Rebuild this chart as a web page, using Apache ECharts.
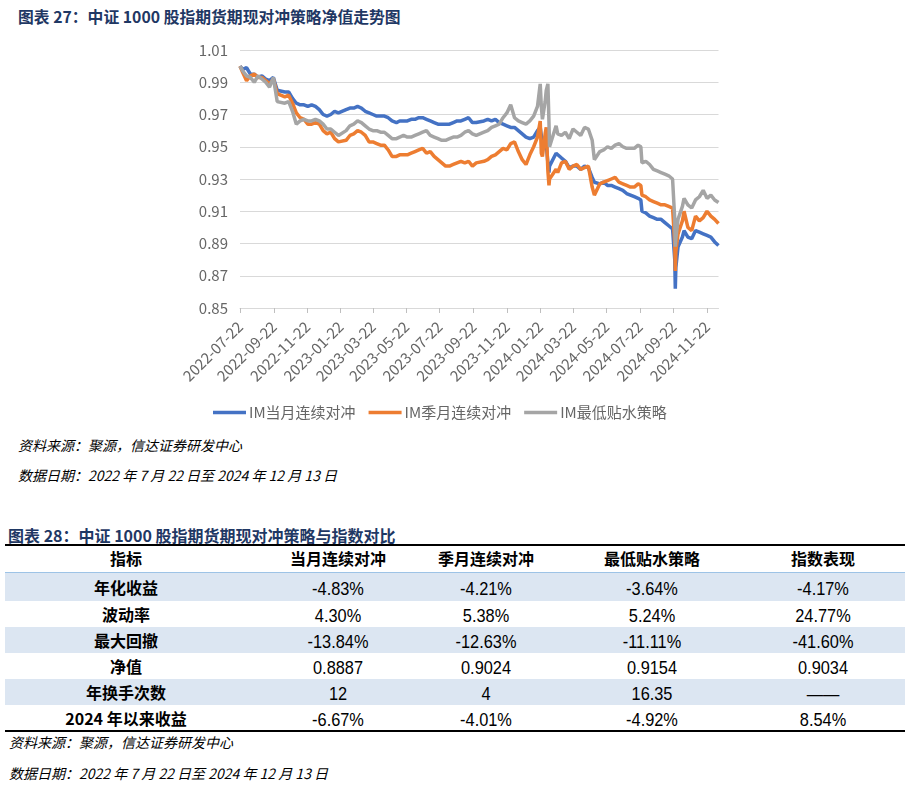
<!DOCTYPE html>
<html><head><meta charset="utf-8">
<script src="https://cdn.jsdelivr.net/npm/echarts@6/dist/echarts.min.js"></script>
<style>
html,body{margin:0;padding:0;background:#fff;width:919px;height:789px;overflow:hidden;font-family:"Noto Sans CJK SC",sans-serif;}
#chart{position:absolute;left:0;top:0;width:919px;height:430px;}
.t{position:absolute;white-space:nowrap;line-height:1;}
.title{font-weight:bold;color:#1f3864;}
.src{font-style:italic;font-size:14px;color:#000;}
.rowbg{position:absolute;left:5px;width:900px;background:#dce6f2;}
.cell{position:absolute;transform:translate(-50%,-50%);white-space:nowrap;line-height:1;}
.hd{font-weight:bold;font-size:16px;color:#000;}
.num{font-family:"Liberation Sans",sans-serif;font-size:19px;color:#000;transform:translate(-50%,-50%) scaleX(0.86);}
.hline{position:absolute;left:5px;width:900px;}
</style></head>
<body>
<div class="t title" style="left:18px;top:9px;font-size:15.8px;">图表 27：中证 1000 股指期货期现对冲策略净值走势图</div>
<div id="chart"></div>
<div class="t src" style="left:18px;top:438px;">资料来源：聚源，信达证券研发中心</div>
<div class="t src" style="left:18px;top:468px;">数据日期：2022 年 7 月 22 日至 2024 年 12 月 13 日</div>
<div class="t title" style="left:8px;top:527px;font-size:16px;">图表 28：中证 1000 股指期货期现对冲策略与指数对比</div>
<div id="table"></div>
<div class="t src" style="left:9px;top:735px;">资料来源：聚源，信达证券研发中心</div>
<div class="t src" style="left:9px;top:766px;">数据日期：2022 年 7 月 22 日至 2024 年 12 月 13 日</div>
<script>
const dates = [
'2022-07-22','2022-07-27','2022-08-03','2022-08-10','2022-08-17','2022-08-24','2022-08-31','2022-09-07','2022-09-14','2022-09-21',
'2022-09-28','2022-10-12','2022-10-19','2022-10-26','2022-11-02','2022-11-09','2022-11-16','2022-11-23','2022-11-30','2022-12-07',
'2022-12-14','2022-12-21','2022-12-28','2023-01-04','2023-01-11','2023-01-18','2023-02-01','2023-02-08','2023-02-15','2023-02-22',
'2023-03-01','2023-03-08','2023-03-15','2023-03-22','2023-03-29','2023-04-05','2023-04-12','2023-04-19','2023-04-26','2023-05-04',
'2023-05-10','2023-05-17','2023-05-24','2023-05-31','2023-06-07','2023-06-14','2023-06-21','2023-06-28','2023-07-05','2023-07-12',
'2023-07-19','2023-07-26','2023-08-02','2023-08-09','2023-08-16','2023-08-23','2023-08-30','2023-09-06','2023-09-13','2023-09-20',
'2023-09-27','2023-10-11','2023-10-18','2023-10-25','2023-11-01','2023-11-08','2023-11-15','2023-11-22','2023-11-29','2023-12-06',
'2023-12-13','2023-12-20','2023-12-27','2024-01-03','2024-01-10','2024-01-17','2024-01-22','2024-01-24','2024-01-26','2024-01-31',
'2024-02-02','2024-02-05','2024-02-07','2024-02-08','2024-02-20','2024-02-23','2024-03-01','2024-03-08','2024-03-15','2024-03-22',
'2024-03-29','2024-04-05','2024-04-12','2024-04-19','2024-04-26','2024-04-30','2024-05-10','2024-05-17','2024-05-24','2024-05-31',
'2024-06-07','2024-06-14','2024-06-21','2024-06-28','2024-07-05','2024-07-12','2024-07-19','2024-07-24','2024-07-26','2024-08-02',
'2024-08-09','2024-08-16','2024-08-23','2024-08-30','2024-09-06','2024-09-13','2024-09-20','2024-09-24','2024-09-25','2024-09-26',
'2024-09-30','2024-10-08','2024-10-11','2024-10-18','2024-10-25','2024-11-01','2024-11-08','2024-11-15','2024-11-22','2024-11-29',
'2024-12-06','2024-12-13'];

const imMonthly = [
1.000,0.998,0.999,0.995,0.995,0.993,0.994,0.992,0.991,0.993,
0.985,0.984,0.984,0.980,0.977,0.976,0.976,0.975,0.976,0.975,
0.973,0.970,0.969,0.970,0.972,0.971,0.973,0.974,0.974,0.975,
0.974,0.972,0.971,0.970,0.969,0.969,0.969,0.968,0.966,0.965,
0.966,0.966,0.966,0.967,0.967,0.968,0.968,0.967,0.966,0.965,
0.964,0.964,0.964,0.964,0.965,0.966,0.966,0.967,0.968,0.965,
0.965,0.966,0.967,0.966,0.967,0.965,0.964,0.963,0.962,0.962,
0.960,0.958,0.956,0.955,0.956,0.960,0.962,0.957,0.955,0.954,
0.952,0.940,0.934,0.938,0.946,0.945,0.943,0.941,0.937,0.938,
0.938,0.936,0.938,0.937,0.931,0.928,0.927,0.928,0.926,0.926,
0.925,0.924,0.923,0.921,0.920,0.919,0.918,0.917,0.910,0.909,
0.907,0.906,0.905,0.905,0.903,0.901,0.899,0.880,0.862,0.875,
0.888,0.894,0.898,0.894,0.893,0.898,0.897,0.896,0.895,0.894,
0.891,0.8887];

const imQuarterly = [
1.000,0.996,0.991,0.994,0.995,0.993,0.993,0.991,0.989,0.992,
0.983,0.981,0.982,0.977,0.971,0.968,0.967,0.964,0.964,0.965,
0.964,0.960,0.958,0.959,0.955,0.953,0.954,0.957,0.958,0.960,
0.959,0.957,0.953,0.953,0.952,0.951,0.951,0.948,0.944,0.944,
0.945,0.945,0.945,0.946,0.947,0.948,0.949,0.946,0.947,0.944,
0.942,0.940,0.938,0.938,0.939,0.940,0.941,0.940,0.941,0.938,
0.940,0.941,0.942,0.944,0.945,0.947,0.949,0.948,0.952,0.953,
0.947,0.942,0.939,0.945,0.950,0.956,0.966,0.946,0.944,0.958,
0.962,0.935,0.926,0.930,0.936,0.934,0.940,0.941,0.936,0.938,
0.939,0.936,0.937,0.938,0.925,0.920,0.927,0.928,0.929,0.930,
0.931,0.928,0.927,0.926,0.925,0.925,0.927,0.926,0.920,0.919,
0.917,0.916,0.915,0.914,0.914,0.913,0.912,0.890,0.873,0.885,
0.896,0.904,0.910,0.900,0.898,0.907,0.904,0.906,0.910,0.907,
0.905,0.9024];

const imMinDiscount = [
1.000,0.997,0.994,0.993,0.990,0.994,0.992,0.990,0.987,0.993,
0.978,0.977,0.978,0.972,0.964,0.966,0.967,0.966,0.966,0.967,
0.966,0.964,0.961,0.961,0.959,0.957,0.960,0.963,0.964,0.966,
0.965,0.963,0.961,0.960,0.960,0.959,0.959,0.957,0.955,0.955,
0.956,0.957,0.956,0.956,0.957,0.958,0.959,0.960,0.957,0.956,
0.955,0.954,0.954,0.955,0.956,0.956,0.957,0.959,0.960,0.958,
0.957,0.959,0.960,0.962,0.963,0.964,0.968,0.971,0.976,0.968,
0.966,0.965,0.964,0.966,0.969,0.975,0.989,0.975,0.967,0.978,
0.985,0.989,0.965,0.950,0.963,0.958,0.957,0.959,0.955,0.961,
0.959,0.957,0.962,0.961,0.954,0.942,0.947,0.948,0.950,0.949,
0.951,0.952,0.950,0.949,0.949,0.949,0.951,0.950,0.940,0.941,
0.939,0.936,0.935,0.934,0.933,0.932,0.930,0.905,0.888,0.893,
0.905,0.913,0.918,0.914,0.912,0.917,0.919,0.923,0.918,0.920,
0.917,0.9154];

const seriesNames = ['IM当月连续对冲','IM季月连续对冲','IM最低贴水策略'];
const seriesColors = ['#4472C4','#ED7D31','#A5A5A5'];
const xTickLabels = ['2022-07-22','2022-09-22','2022-11-22','2023-01-22','2023-03-22','2023-05-22','2023-07-22',
'2023-09-22','2023-11-22','2024-01-22','2024-03-22','2024-05-22','2024-07-22','2024-09-22','2024-11-22'];
const xStart = '2022-07-22', xEnd = '2024-12-13';

const tableHeaders = ['指标','当月连续对冲','季月连续对冲','最低贴水策略','指数表现'];
const tableRowLabels = ['年化收益','波动率','最大回撤','净值','年换手次数','2024 年以来收益'];
const tableValues = [
 ['-4.83%','-4.21%','-3.64%','-4.17%'],
 ['4.30%','5.38%','5.24%','24.77%'],
 ['-13.84%','-12.63%','-11.11%','-41.60%'],
 ['0.8887','0.9024','0.9154','0.9034'],
 ['12','4','16.35','——'],
 ['-6.67%','-4.01%','-4.92%','8.54%']
];

// table
(function(){
const tb = document.getElementById('table');
const colX = [126, 338, 486, 652, 823];
const rowTop = [573, 601, 627, 653, 679, 705];
const rowBottom = [601, 627, 653, 679, 705, 731];
let html = '';
html += '<div class="hline" style="top:543.5px;height:2px;background:#000;"></div>';
html += '<div class="hline" style="top:572px;height:1px;background:#9dc3e6;"></div>';
rowTop.forEach((t,i)=>{ if(i%2===0) html += `<div class="rowbg" style="top:${t}px;height:${rowBottom[i]-t}px;"></div>`; });
html += '<div class="hline" style="top:730px;height:2px;background:#000;"></div>';
tableHeaders.forEach((h,j)=>{ html += `<div class="cell hd" style="left:${colX[j]}px;top:558px;">${h}</div>`; });
tableRowLabels.forEach((r,i)=>{
  const cy = (rowTop[i]+rowBottom[i])/2;
  html += `<div class="cell hd" style="left:${colX[0]}px;top:${cy}px;">${r}</div>`;
  tableValues[i].forEach((v,j)=>{ html += `<div class="cell num" style="left:${colX[j+1]}px;top:${cy+1}px;">${v}</div>`; });
});
tb.innerHTML = html;
})();

function ts(s){const p=s.split('-');return new Date(+p[0],+p[1]-1,+p[2]).getTime();}
function fmt(v){const d=new Date(v);const m=d.getMonth()+1,dd=d.getDate();return d.getFullYear()+'-'+(m<10?'0':'')+m+'-'+(dd<10?'0':'')+dd;}
const tickTs = xTickLabels.map(ts);
const seriesData = [imMonthly, imQuarterly, imMinDiscount];

const chart = echarts.init(document.getElementById('chart'));
chart.setOption({
  animation:false,
  textStyle:{fontFamily:'"Noto Sans CJK SC", sans-serif'},
  grid:{left:240, right:200.5, top:50, height:258, containLabel:false},
  legend:{data:seriesNames, left:208, top:400, icon:'rect', itemWidth:33, itemHeight:3.5, itemGap:13,
    textStyle:{fontSize:15,color:'#666666', padding:[0,0,0,-2]}},
  xAxis:{type:'value', min:ts(xStart), max:ts(xEnd),
    axisLine:{lineStyle:{color:'#d9d9d9',width:1}},
    axisTick:{show:true, customValues:tickTs, length:5, lineStyle:{color:'#bfbfbf'}},
    axisLabel:{customValues:tickTs, rotate:45, fontSize:15, color:'#666666', margin:16, formatter:v=>fmt(v), hideOverlap:false, showMinLabel:true, showMaxLabel:true},
    splitLine:{show:false}},
  yAxis:{type:'value', min:0.85, max:1.01, interval:0.02,
    axisLine:{show:false}, axisTick:{show:false},
    axisLabel:{fontSize:15, color:'#666666', margin:12, formatter:v=>v.toFixed(2)},
    splitLine:{lineStyle:{color:'#d9d9d9',width:1}}},
  series: seriesNames.map((n,k)=>({
    name:n, type:'line', showSymbol:false, symbol:'none',
    lineStyle:{width:3.5,color:seriesColors[k]}, itemStyle:{color:seriesColors[k]},
    data: dates.map((d,i)=>[ts(d), seriesData[k][i]])
  }))
});
</script>
</body></html>
